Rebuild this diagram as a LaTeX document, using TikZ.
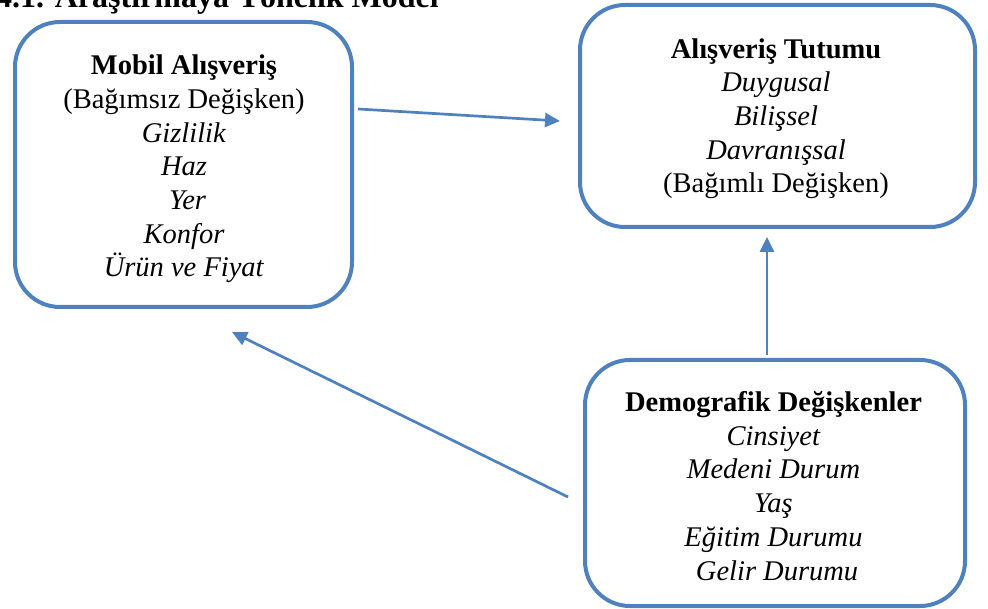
\documentclass[tikz,border=0pt]{standalone}
\usepackage{fontspec}
\setmainfont{Liberation Serif}
\usetikzlibrary{arrows.meta}
\definecolor{boxblue}{HTML}{4F81BD}
\tikzset{
  varbox/.style={draw=boxblue, line width=4pt, rounded corners=45pt, inner sep=0pt},
  boxtext/.style={align=center, anchor=base, inner sep=0pt,
    font=\fontsize{28.5}{33.7}\selectfont},
  link/.style={draw=boxblue, line width=2.7pt, -{Triangle[length=15pt,width=14pt]}},
  titletext/.style={font=\fontsize{32}{36}\selectfont\bfseries, anchor=base west, inner sep=0pt}
}
\begin{document}
\begin{tikzpicture}[x=1pt,y=-1pt]
\useasboundingbox (0,0) rectangle (988,609);
\clip (0,0) rectangle (988,609);
\node[titletext] (title) at (-4,8) {4.1. Araştırmaya Yönelik Model};
\node[varbox, minimum width=337pt, minimum height=285pt] (mobil) at (183.5,164.5) {};
\node[varbox, minimum width=395pt, minimum height=222pt] (tutum) at (777.5,116) {};
\node[varbox, minimum width=380pt, minimum height=246pt] (demo) at (775,483) {};
\node[boxtext] (mobiltext) at (184,277)
  {\textbf{Mobil Alışveriş}\\(Bağımsız Değişken)\\\textit{Gizlilik}\\\textit{Haz}\\\textit{\ Yer}\\\textit{Konfor}\\\textit{Ürün ve Fiyat}};
\node[boxtext] (tutumtext) at (776,193)
  {\textbf{Alışveriş Tutumu}\\\textit{Duygusal}\\\textit{Bilişsel}\\\textit{Davranışsal}\\(Bağımlı Değişken)};
\node[boxtext] (demotext) at (773.5,580)
  {\textbf{Demografik Değişkenler}\\\textit{Cinsiyet}\\\textit{Medeni Durum}\\\textit{Yaş}\\\textit{Eğitim Durumu}\\\textit{\ Gelir Durumu}};
\coordinate (a1s) at (358,109);
\coordinate (a1e) at (560,121);
\coordinate (a2s) at (767,355);
\coordinate (a2e) at (767,237);
\coordinate (a3s) at (568,497);
\coordinate (a3e) at (232,332);
\draw[link] (a1s) -- (a1e);
\draw[link] (a2s) -- (a2e);
\draw[link] (a3s) -- (a3e);
\end{tikzpicture}
\end{document}
